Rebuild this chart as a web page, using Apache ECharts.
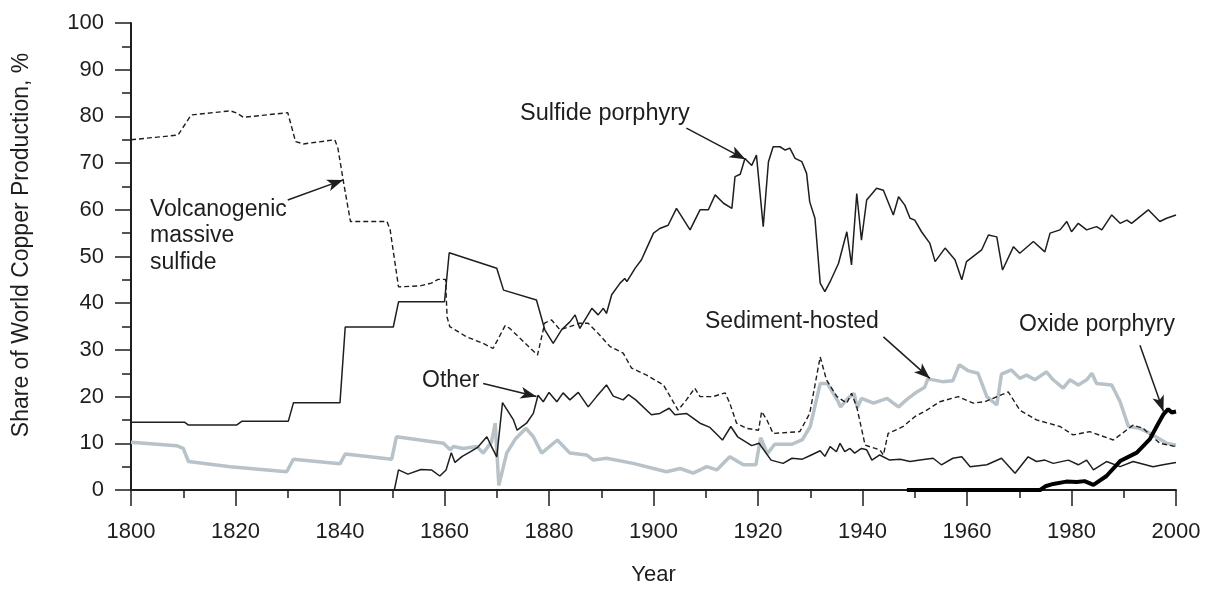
<!DOCTYPE html>
<html>
<head>
<meta charset="utf-8">
<script src="https://cdn.jsdelivr.net/npm/echarts@6/dist/echarts.min.js"></script>
<style>
html,body{margin:0;padding:0;background:#fff;}
#chart{width:1216px;height:590px;}
</style>
</head>
<body>
<div id="chart"></div>
<script>
// ---- Data (year, share %) ----
const vmsPoints = [[1800,75],[1809,76],[1811.5,80.3],[1819,81.2],[1820.3,80.7],[1821.5,79.8],[1830,80.8],[1831.5,74.6],[1833,74.1],[1839,75],[1839.6,73.2],[1840.6,66.4],[1842,57.5],[1849,57.5],[1849.6,55.7],[1851.2,43.5],[1855.3,43.7],[1857.5,44.3],[1858.8,45.1],[1860.2,45.1],[1860.5,37],[1861,35],[1864.2,32.8],[1867.4,31.4],[1869.3,30.3],[1871.6,35.2],[1872.5,34.6],[1877.8,28.9],[1879.2,35.8],[1880.5,36.4],[1882.1,34.3],[1884,35],[1885.9,35.7],[1887.5,35.7],[1889.1,33.9],[1891.7,30.7],[1894.2,29.3],[1895.8,26.1],[1898.7,24.6],[1901.9,22.5],[1903.2,20],[1904.7,17.1],[1906.3,19.3],[1907.9,21.8],[1908.9,20],[1911.4,20],[1913.7,20.8],[1914.6,18.6],[1915.9,14.3],[1917.8,13.2],[1920.1,12.8],[1920.7,16.8],[1921.7,15],[1922.9,12.1],[1928,12.5],[1929.9,16.4],[1931.9,28.5],[1933.1,23.6],[1935.1,20],[1937,18.6],[1937.9,20.7],[1938.9,17.8],[1940.5,9.6],[1943.3,8.6],[1944,7.5],[1944.9,12.1],[1947.8,13.6],[1950,15.7],[1952.3,17.1],[1954.8,18.9],[1958.3,20],[1961.2,18.6],[1963.4,18.9],[1967.9,21],[1970.1,17.1],[1973.3,15],[1977.8,13.6],[1980.3,11.8],[1983.5,12.5],[1988,10.7],[1991.8,13.9],[1993.7,13.2],[1996.9,10],[2000,9.3]];

const sulfidePoints = [[1800,14.5],[1810.3,14.5],[1811,13.9],[1820.2,13.9],[1821.2,14.7],[1830.1,14.7],[1831.1,18.7],[1840,18.7],[1841,34.9],[1850.2,34.9],[1851.2,40.3],[1860,40.3],[1860.9,50.8],[1870,47.5],[1871.3,42.8],[1877.6,40.7],[1879.2,34.3],[1880.8,31.4],[1882.4,34.3],[1884,36],[1885,37.5],[1885.9,34.6],[1888.2,38.9],[1889.4,37.5],[1890.4,38.9],[1891,37.8],[1892,41.8],[1893.6,44.3],[1894.5,45.3],[1894.9,44.6],[1896.5,47.5],[1897.7,49.3],[1898.7,51.8],[1900,55],[1901.2,56],[1902.8,56.7],[1904.4,60.3],[1907,55.7],[1908.9,60],[1910.5,60],[1911.8,63.2],[1913.4,61.4],[1915,60.3],[1915.6,67.1],[1916.6,67.6],[1917.5,71],[1918.8,69.5],[1919.7,71.7],[1921,56.4],[1922,70.3],[1922.9,73.5],[1924.2,73.5],[1925.2,72.8],[1926.1,73.2],[1927.1,71],[1928.4,70.3],[1929.3,67.8],[1929.9,61.7],[1930.9,58.2],[1931.9,44.3],[1932.8,42.5],[1933.8,44.6],[1935.4,48.5],[1937,55.3],[1937.9,48.2],[1938.9,63.5],[1939.8,53.5],[1940.8,62.1],[1942.7,64.6],[1944,64.2],[1945.9,58.9],[1946.9,62.8],[1948.1,61],[1949.1,58.2],[1950,57.8],[1951.3,55.3],[1952.9,52.8],[1953.9,48.9],[1955.8,51.8],[1957.7,49.3],[1959,45],[1959.9,48.9],[1962.8,51.4],[1964.1,54.6],[1965.7,54.2],[1966.8,47.1],[1968.9,52.1],[1970.1,50.7],[1972.7,53.2],[1974.9,51],[1975.9,55],[1977.8,55.7],[1979.1,57.5],[1980,55.3],[1981.3,57.1],[1982.9,55.7],[1984.8,56.4],[1985.8,55.7],[1987.7,58.9],[1989.3,57.1],[1990.6,57.8],[1991.5,57.1],[1994.7,60],[1996.9,57.5],[1998.2,58.2],[2000,58.9]];

const otherPoints = [[1847,0],[1850.4,0],[1851.2,4.3],[1853,3.4],[1855.5,4.4],[1857.5,4.3],[1859.1,3.0],[1860.3,4.3],[1861.3,8.0],[1862,5.9],[1863.4,7.2],[1865,8.2],[1866.4,9.2],[1868.1,11.4],[1868.7,10],[1870,7.1],[1871.1,18.7],[1873.2,15],[1873.9,12.8],[1875.7,14.3],[1877,16.4],[1877.9,20.3],[1878.9,18.9],[1880,20.9],[1881.5,18.9],[1882.7,20.8],[1884,19.3],[1885.6,20.9],[1887.5,17.8],[1889.1,20],[1891,22.5],[1892.3,20.1],[1894.2,19.3],[1895.2,20.4],[1896.6,19.3],[1899.6,16.1],[1901.2,16.4],[1903,17.5],[1904.1,16.1],[1906.3,16.4],[1908.9,14.3],[1910.8,13.4],[1913.2,10.7],[1914.8,13.6],[1916.1,11.4],[1918.8,9.5],[1920.2,10],[1922.5,6.4],[1924.8,5.7],[1926.5,6.8],[1928.5,6.6],[1930.2,7.5],[1931.9,8.4],[1932.8,7.2],[1933.8,9.3],[1935,8.2],[1935.7,10],[1936.6,8.2],[1937.6,8.9],[1938.5,7.9],[1939.8,8.9],[1940.8,8.6],[1941.8,6.4],[1943.3,7.5],[1945.2,6.4],[1947.2,6.6],[1949.1,6.1],[1951,6.4],[1953.5,6.8],[1955.1,5.4],[1957.3,6.8],[1959,7.1],[1960.6,5],[1963.8,5.4],[1966.6,6.8],[1969.2,3.6],[1971.7,7.1],[1973.3,6.1],[1974.9,6.4],[1976.5,5.7],[1979.4,6.4],[1981.3,5.4],[1982.9,6.4],[1984.2,4.3],[1986.7,6.1],[1989.3,5],[1991.8,6.1],[1995.6,5],[1997.5,5.4],[2000,5.9]];

const sedimentPoints = [[1800,10.2],[1808.7,9.5],[1810,8.9],[1811,6.1],[1819,5.0],[1829.8,3.9],[1831.1,6.6],[1840,5.6],[1841,7.7],[1849.9,6.6],[1850.8,11.4],[1859.8,10],[1861.1,8.6],[1861.7,9.3],[1863.6,8.9],[1866.2,9.3],[1867.4,7.9],[1869,10.3],[1869.7,14.3],[1870.4,1.0],[1871.9,7.9],[1873.6,11],[1875.6,13.2],[1877,11.4],[1878.6,7.9],[1881.6,10.7],[1884,7.9],[1887.2,7.5],[1888.5,6.4],[1891,6.8],[1896.1,5.7],[1900,4.6],[1902.5,3.9],[1905.1,4.6],[1907.6,3.6],[1910.2,5],[1912.1,4.3],[1914.6,7.1],[1917.2,5.4],[1919.6,5.4],[1920.5,11.2],[1921.8,7.8],[1923.2,9.8],[1926.5,9.8],[1928.5,10.8],[1930,13.6],[1931.9,22.8],[1933.3,22.8],[1935.2,19.2],[1935.8,17.8],[1937.2,19.6],[1938.4,20.7],[1939,17.6],[1939.8,19.6],[1942.1,18.6],[1944.7,19.6],[1945.9,18.6],[1946.9,17.8],[1948.5,19.4],[1950.4,21],[1951.9,22],[1952.5,23.8],[1955.3,23.2],[1957.3,23.4],[1958.5,26.8],[1960.3,25.5],[1962.1,25],[1963.8,20],[1965.7,18.2],[1966.6,24.8],[1968.5,25.7],[1970.1,23.9],[1971.4,24.6],[1973,23.6],[1975.2,25.3],[1976.5,23.6],[1978.4,21.8],[1979.7,23.6],[1981.3,22.5],[1982.9,23.6],[1983.9,25],[1984.8,22.8],[1987.7,22.5],[1989.3,18.9],[1990.9,13.6],[1993.1,13.2],[1995.6,11.8],[1998.2,10],[2000,9.6]];

const oxidePoints = [[1948.5,0],[1974,0],[1975,0.8],[1976.5,1.3],[1979,1.8],[1981,1.7],[1982.5,1.9],[1984.2,1.1],[1986.7,3.0],[1989.3,6.2],[1992.5,8.0],[1995,10.9],[1996.4,13.8],[1997.6,16.2],[1998.5,17.3],[1999.2,16.6],[2000,16.8]];

// annotation arrows: [from, to] in (year, %)
const arrowLines = [
  [[1830.0,62.1],[1840.6,66.4]],
  [[1906.3,77.5],[1917.6,70.8]],
  [[1867.4,22.8],[1877.6,20.0]],
  [[1944.0,32.8],[1952.9,23.9]],
  [[1993.1,31.0],[1997.6,16.8]]
];

const xTicks = {min:1800, max:2000, interval:20};
const yTicks = {min:0, max:100, interval:10};

const FONT = 'Liberation Sans, Arial, Helvetica, sans-serif';
const ink = '#1e1e1e';

const chart = echarts.init(document.getElementById('chart'), null, {renderer:'canvas'});

function lineSeries(name, data, style, z) {
  return {
    name, type:'line', data, showSymbol:false, symbol:'none', smooth:false,
    lineStyle: style, z: z, animation:false, silent:true
  };
}

const option = {
  backgroundColor:'#fff',
  animation:false,
  grid:{left:131, right:40, top:23, bottom:100, containLabel:false, outerBoundsMode:'none'},
  xAxis:{
    type:'value', min:xTicks.min, max:xTicks.max, interval:xTicks.interval,
    name:'Year', nameLocation:'middle', nameGap:74,
    nameTextStyle:{fontFamily:FONT, fontSize:22, color:ink},
    axisLine:{show:true, onZero:false, lineStyle:{color:ink, width:2}},
    axisTick:{show:true, inside:false, length:16, lineStyle:{color:ink, width:1.5}},
    minorTick:{show:true, splitNumber:2, length:8, lineStyle:{color:ink, width:1.5}},
    splitLine:{show:false},
    axisLabel:{fontFamily:FONT, fontSize:22, color:ink, margin:31, formatter:v=>String(v)}
  },
  yAxis:{
    type:'value', min:yTicks.min, max:yTicks.max, interval:yTicks.interval,
    axisLine:{show:true, lineStyle:{color:ink, width:2}},
    axisTick:{show:true, inside:false, length:16, lineStyle:{color:ink, width:1.5}},
    minorTick:{show:true, splitNumber:2, length:9, lineStyle:{color:ink, width:1.5}},
    splitLine:{show:false},
    axisLabel:{fontFamily:FONT, fontSize:22, color:ink, margin:27}
  },
  series:[
    lineSeries('Sediment-hosted', sedimentPoints, {color:'#b8c2c9', width:3.5}, 2),
    lineSeries('Volcanogenic massive sulfide', vmsPoints, {color:ink, width:1.4, type:[5,3]}, 3),
    lineSeries('Other', otherPoints, {color:ink, width:1.5}, 4),
    lineSeries('Sulfide porphyry', sulfidePoints, {color:ink, width:1.5}, 5),
    lineSeries('Oxide porphyry', oxidePoints, {color:'#000', width:4}, 6),
    {
      name:'arrows', type:'line', data:[], silent:true, z:7,
      markLine:{
        silent:true, animation:false,
        symbol:['none','arrow'], symbolSize:[9,16],
        label:{show:false},
        lineStyle:{color:ink, width:1.5, type:'solid'},
        data: arrowLines.map(a => [{coord:a[0]}, {coord:a[1]}])
      }
    }
  ],
  graphic:[
    {type:'text', x:22, y:245, rotation:Math.PI/2, style:{text:'Share of World Copper Production, %', fontFamily:FONT, fontSize:23, fill:ink, align:'center', verticalAlign:'middle'}},
    {type:'text', left:150, top:196, style:{text:'Volcanogenic\nmassive\nsulfide', fontFamily:FONT, fontSize:23, lineHeight:26.5, fill:ink}},
    {type:'text', left:520, top:102, style:{text:'Sulfide porphyry', fontFamily:FONT, fontSize:23.5, fill:ink}},
    {type:'text', left:422, top:369, style:{text:'Other', fontFamily:FONT, fontSize:23, fill:ink}},
    {type:'text', left:705, top:310, style:{text:'Sediment-hosted', fontFamily:FONT, fontSize:23, fill:ink}},
    {type:'text', left:1019, top:313, style:{text:'Oxide porphyry', fontFamily:FONT, fontSize:23, fill:ink}}
  ]
};
chart.setOption(option);
</script>
</body>
</html>
